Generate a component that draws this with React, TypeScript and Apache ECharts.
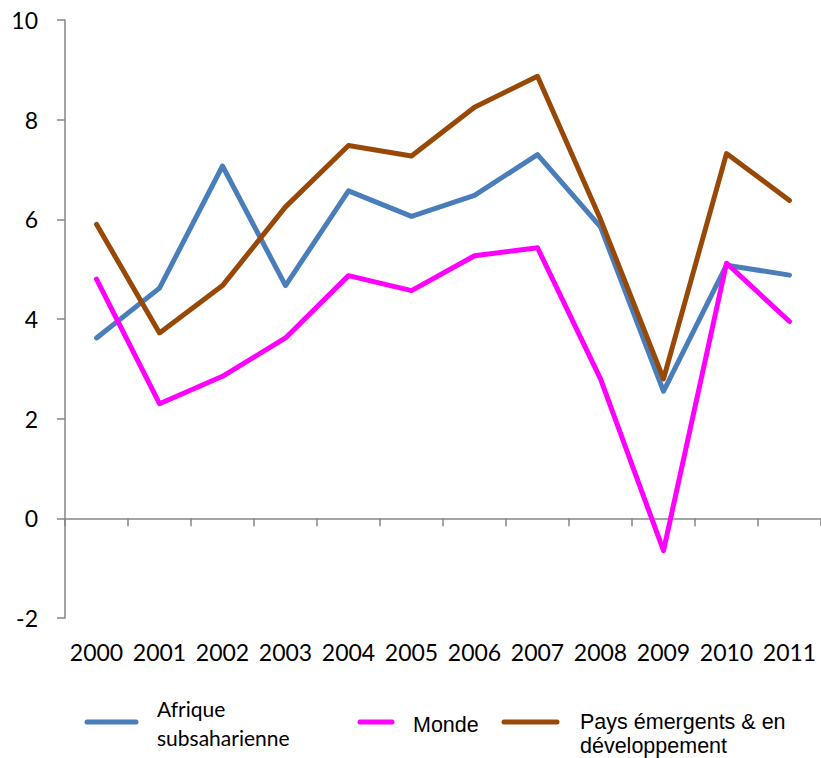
import React, { useEffect, useRef } from "react";
import * as echarts from "echarts";

const years = ["2000","2001","2002","2003","2004","2005","2006","2007","2008","2009","2010","2011"];
const seriesNames = ["Afrique subsaharienne", "Monde", "Pays émergents & en développement"];
const afrique = [3.62, 4.62, 7.07, 4.67, 6.57, 6.06, 6.48, 7.3, 5.85, 2.55, 5.08, 4.88];
const monde = [4.8, 2.3, 2.85, 3.62, 4.87, 4.57, 5.27, 5.43, 2.8, -0.65, 5.12, 3.95];
const emergents = [5.9, 3.72, 4.67, 6.25, 7.48, 7.27, 8.25, 8.87, 6.0, 2.8, 7.32, 6.38];
const colors = ["#4A7EBB", "#FF00FF", "#984807"];

export default function App() {
  const ref = useRef<HTMLDivElement>(null);
  useEffect(() => {
    const chart = echarts.init(ref.current!, null, { renderer: "svg" });
    const axisFont = { fontFamily: "Lato, 'Open Sans', sans-serif", fontSize: 23, color: "#000" };
    const calFont = "21px Lato, 'Open Sans', sans-serif";
    const arialFont = "21.5px 'Liberation Sans', Arial, sans-serif";
    const mk = (name: string, data: number[], color: string) => ({
      name,
      type: "line",
      data,
      xAxisIndex: 0,
      yAxisIndex: 0,
      symbol: "none",
      lineStyle: { color, width: 5, cap: "round", join: "round" },
      itemStyle: { color },
    });
    chart.setOption({
      animation: false,
      backgroundColor: "#fff",
      grid: { left: 65, right: 0, top: 20, bottom: 140 },
      xAxis: [
        {
          type: "category",
          data: years,
          boundaryGap: true,
          axisLine: { show: true, onZero: true, lineStyle: { color: "#868686", width: 1.5 } },
          axisTick: { show: true, length: 8, inside: false, lineStyle: { color: "#868686", width: 1.5 } },
          axisLabel: { show: false },
          splitLine: { show: false },
        },
        {
          type: "category",
          data: years,
          position: "bottom",
          boundaryGap: true,
          axisLine: { show: false, onZero: false },
          axisTick: { show: false },
          axisLabel: { ...axisFont, margin: 22, interval: 0, hideOverlap: false },
          splitLine: { show: false },
        },
      ],
      yAxis: {
        type: "value",
        min: -2,
        max: 10,
        interval: 2,
        axisLine: { show: true, lineStyle: { color: "#868686", width: 1.5 } },
        axisTick: { show: true, length: 8, lineStyle: { color: "#868686", width: 1.5 } },
        axisLabel: { ...axisFont, margin: 27 },
        splitLine: { show: false },
      },
      series: [
        mk(seriesNames[0], afrique, colors[0]),
        mk(seriesNames[1], monde, colors[1]),
        mk(seriesNames[2], emergents, colors[2]),
      ],
      graphic: [
        { type: "line", shape: { x1: 87, y1: 722, x2: 136, y2: 722 }, style: { stroke: colors[0], lineWidth: 5, lineCap: "round" } },
        { type: "text", x: 157, y: 708, style: { text: "Afrique", font: calFont, fill: "#000", verticalAlign: "middle" } },
        { type: "text", x: 157, y: 737, style: { text: "subsaharienne", font: calFont, fill: "#000", verticalAlign: "middle" } },
        { type: "line", shape: { x1: 360, y1: 722, x2: 392, y2: 722 }, style: { stroke: colors[1], lineWidth: 5, lineCap: "round" } },
        { type: "text", x: 413, y: 725, style: { text: "Monde", font: arialFont, fill: "#000", verticalAlign: "middle" } },
        { type: "line", shape: { x1: 504, y1: 722, x2: 557, y2: 722 }, style: { stroke: colors[2], lineWidth: 5, lineCap: "round" } },
        { type: "text", x: 580, y: 722, style: { text: "Pays émergents & en", font: arialFont, fill: "#000", verticalAlign: "middle" } },
        { type: "text", x: 580, y: 746, style: { text: "développement", font: arialFont, fill: "#000", verticalAlign: "middle" } },
      ],
    });
    return () => chart.dispose();
  }, []);
  return <div ref={ref} style={{ width: 821, height: 758, position: "absolute", left: 0, top: 0 }} />;
}
